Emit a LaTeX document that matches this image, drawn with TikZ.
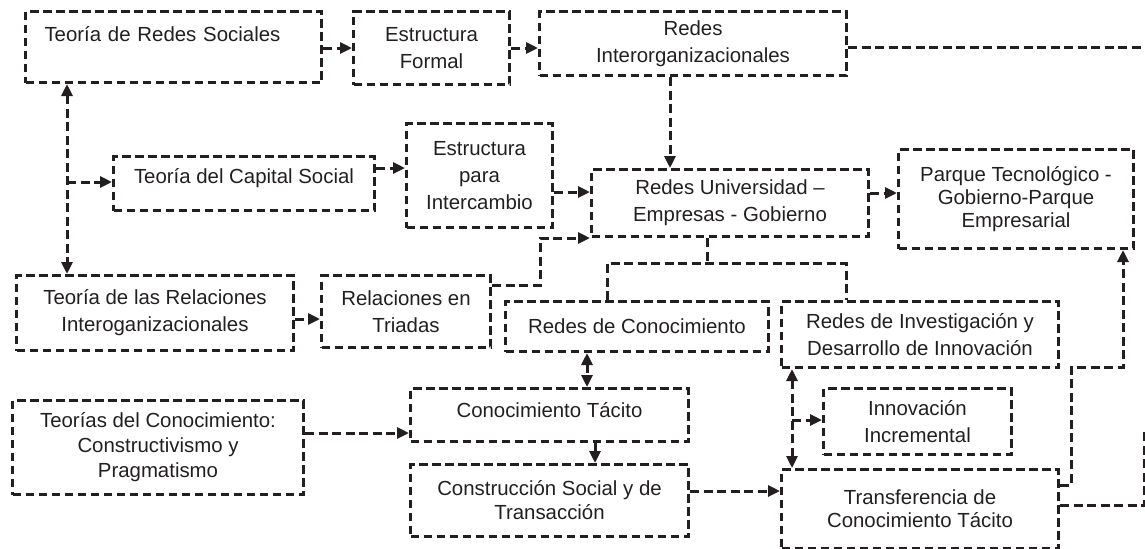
\documentclass[tikz,border=0pt]{standalone}
\usepackage{fontspec}
\setmainfont{Liberation Sans}
\usetikzlibrary{arrows.meta}
\definecolor{ink}{HTML}{231F20}

\begin{document}
\begin{tikzpicture}[x=0.5pt,y=-0.5pt,
	box/.style={draw=ink, text=ink, line width=1.5pt, dash pattern=on 4.25pt off 2.25pt,
		inner sep=0pt, anchor=north west, align=center,
		font=\fontsize{10.2}{13.5}\selectfont},
	conn/.style={draw=ink, line width=1.5pt, dash pattern=on 4.5pt off 2.25pt},
	arr/.style={conn, -{Triangle[length=6pt,width=5.5pt]}},
	biarr/.style={conn, {Triangle[length=6pt,width=5.5pt]}-{Triangle[length=6pt,width=5.5pt]}}]
	\useasboundingbox (0,0) rectangle (1145,548);

	% upper row
	\node[box, minimum width=148pt, minimum height=35.5pt, text width=129pt, align=left,
		inner xsep=9.5pt, text depth=13.5pt] (rs) at (24,10) {Teoría de Redes Sociales};
	\node[box, minimum width=78pt, minimum height=36.5pt] (ef) at (352,10) {Estructura\\Formal};
	\node[box, minimum width=153.5pt, minimum height=32pt] (ri) at (538,10) {Redes\\Interorganizacionales};

	% second row
	\node[box, minimum width=130.5pt, minimum height=27pt, text depth=8pt] (cs) at (112,155) {Teoría del Capital Social};
	\node[box, minimum width=73pt, minimum height=52pt] (ei) at (405,122) {Estructura\\para\\Intercambio};
	\node[box, minimum width=138.5pt, minimum height=33.5pt] (ru) at (590,168) {Redes Universidad –\\Empresas - Gobierno};
	\node[box, minimum width=117.5pt, minimum height=49.5pt,
		font=\fontsize{10.2}{11.5}\selectfont] (pq) at (897,148) {Parque Tecnológico -\\Gobierno-Parque\\Empresarial};

	% third row
	\node[box, minimum width=138.5pt, minimum height=37.5pt] (tr) at (15,274) {Teoría de las Relaciones\\Interoganizacionales};
	\node[box, minimum width=84.5pt, minimum height=36pt] (tri) at (320,274) {Relaciones en\\Triadas};
	\node[box, minimum width=131.5pt, minimum height=25pt] (rc) at (504,300) {Redes de Conocimiento};
	\node[box, minimum width=138.5pt, minimum height=33pt] (rd) at (780,300) {Redes de Investigación y\\Desarrollo de Innovación};

	% lower rows
	\node[box, minimum width=145.5pt, minimum height=47pt,
		font=\fontsize{10.2}{12.5}\selectfont] (teo) at (11,399) {Teorías del Conocimiento:\\Constructivismo y\\Pragmatismo};
	\node[box, minimum width=139pt, minimum height=26.5pt, text depth=5.5pt] (ct) at (409,387) {Conocimiento Tácito};
	\node[box, minimum width=94pt, minimum height=33pt] (inn) at (822,387) {Innovación\\Incremental};
	\node[box, minimum width=139pt, minimum height=36pt,
		font=\fontsize{10.2}{12}\selectfont] (cons) at (409,463) {Construcción Social y de\\Transacción};
	\node[box, minimum width=138.5pt, minimum height=39.5pt,
		font=\fontsize{10.2}{11.5}\selectfont] (tf) at (780,468) {Transferencia de\\Conocimiento Tácito};

	% connectors
	\coordinate (v) at (67,182);
	\draw[biarr] (rs.south -| v) -- (tr.north -| v);
	\draw[arr] (v) -- (v -| cs.west);
	\draw[arr] (rs.east |- ef.west) -- (ef.west);
	\draw[arr] (ef.east) -- (ef.east -| ri.west);
	\coordinate (d1) at (670,120);
	\draw[arr] (ri.south -| d1) -- (ru.north -| d1);
	\coordinate (d2) at (390,168);
	\draw[arr] (cs.east |- d2) -- (ei.west |- d2);
	\coordinate (d3) at (570,192);
	\draw[arr] (ei.east |- d3) -- (ru.west |- d3);
	\coordinate (d4) at (540,285);
	\draw[arr] (tri.east |- d4) -| (d4 |- ru.south west) -- (ru.south west);
	\coordinate (d5) at (300,319);
	\draw[arr] (tr.east |- d5) -- (tri.west |- d5);
	\coordinate (d6) at (880,193);
	\draw[arr] (ru.east |- d6) -- (pq.west |- d6);

	% bracket under Redes Universidad
	\coordinate (b1) at (607,263);
	\coordinate (b2) at (707,263);
	\coordinate (b3) at (846,263);
	\draw[conn] (ru.south -| b2) -- (b2);
	\draw[conn] (rc.north -| b1) -- (b1) -- (b3) -- (rd.north -| b3);

	\coordinate (k1) at (587,370);
	\draw[biarr] (rc.south -| k1) -- (ct.north -| k1);
	\coordinate (k2) at (595,450);
	\draw[arr] (ct.south -| k2) -- (cons.north -| k2);
	\coordinate (k3) at (350,433);
	\draw[arr] (teo.east |- k3) -- (ct.west |- k3);
	\coordinate (k4) at (730,491);
	\draw[arr] (cons.east |- k4) -- (tf.west |- k4);
	\coordinate (k5) at (792,420);
	\draw[biarr] (rd.south -| k5) -- (tf.north -| k5);
	\draw[arr] (k5) -- (inn.west |- k5);
	\coordinate (k6) at (1071,485);
	\coordinate (k7) at (1123,367);
	\draw[arr] (tf.east |- k6) -- (k6) |- (k7) -- (pq.south -| k7);

	% lines leaving the picture
	\coordinate (e1) at (1145,47);
	\draw[conn] (ri.east |- e1) -- (e1);
	\coordinate (e2) at (1144.5,432);
	\coordinate (e3) at (1144.5,505);
	\draw[conn] (tf.east |- e3) -- (e3) -- (e2);
\end{tikzpicture}
\end{document}
